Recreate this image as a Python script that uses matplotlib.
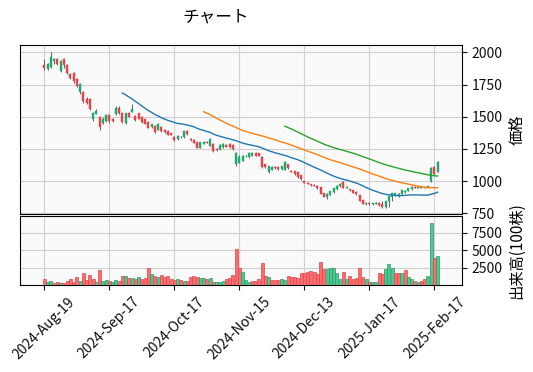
import numpy as np
import pandas as pd
import matplotlib
matplotlib.use('Agg')
import matplotlib.pyplot as plt

plt.rcParams['font.family'] = ['Noto Sans CJK JP', 'DejaVu Sans']

# ------------------------- data -------------------------
opens = [1900, 1870, 1890, 1930, 1950, 1860, 1950, 1900, 1830, 1840,
         1790, 1690, 1690, 1640, 1640, 1480, 1525, 1500, 1450, 1470,
         1515, 1480, 1520, 1570, 1530, 1450, 1530, 1540, 1505, 1525,
         1500, 1480, 1460, 1420, 1430, 1400, 1420, 1400, 1390, 1370,
         1345, 1325, 1345, 1340, 1390, 1330, 1320, 1300, 1260, 1290,
         1305, 1275, 1290, 1250, 1250, 1265, 1280, 1290, 1280, 1135,
         1145, 1160, 1195, 1185, 1200, 1220, 1215, 1190, 1130, 1070,
         1090, 1110, 1110, 1095, 1090, 1130, 1080, 1075, 1070, 1045,
         1000, 985, 975, 970, 965, 950, 905, 875, 895, 915,
         940, 960, 995, 950, 935, 930, 915, 890, 850, 822,
         830, 820, 825, 828, 822, 800, 845, 880, 890, 885,
         905, 915, 925, 940, 955, 950, 955, 950, 955, 1000,
         1110, 1075]
highs = [1950, 1920, 2000, 1960, 1960, 1940, 1955, 1910, 1840, 1845,
         1800, 1760, 1700, 1650, 1645, 1535, 1560, 1505, 1495, 1520,
         1525, 1490, 1580, 1580, 1540, 1530, 1535, 1600, 1510, 1530,
         1505, 1485, 1465, 1445, 1435, 1450, 1425, 1405, 1395, 1375,
         1350, 1355, 1350, 1390, 1395, 1335, 1325, 1305, 1305, 1310,
         1310, 1335, 1295, 1255, 1285, 1295, 1285, 1295, 1285, 1225,
         1200, 1205, 1200, 1225, 1225, 1225, 1220, 1195, 1135, 1120,
         1115, 1115, 1115, 1120, 1160, 1135, 1085, 1080, 1075, 1050,
         1005, 990, 980, 975, 970, 955, 910, 905, 925, 950,
         970, 985, 1000, 960, 940, 935, 920, 895, 855, 835,
         835, 830, 835, 835, 845, 830, 850, 890, 910, 905,
         935, 930, 950, 960, 960, 960, 960, 958, 965, 1110,
         1115, 1160]
lows = [1860, 1860, 1880, 1910, 1900, 1850, 1880, 1830, 1790, 1760,
        1730, 1680, 1610, 1600, 1550, 1470, 1520, 1400, 1440, 1460,
        1455, 1460, 1515, 1525, 1450, 1440, 1495, 1535, 1470, 1480,
        1455, 1440, 1410, 1415, 1375, 1395, 1385, 1375, 1355, 1355,
        1315, 1320, 1335, 1335, 1360, 1315, 1295, 1255, 1255, 1285,
        1295, 1270, 1230, 1235, 1245, 1260, 1265, 1260, 1245, 1115,
        1140, 1155, 1190, 1180, 1195, 1195, 1195, 1105, 1105, 1065,
        1085, 1095, 1090, 1090, 1085, 1095, 1070, 1050, 1025, 1010,
        985, 975, 965, 960, 940, 900, 875, 860, 890, 910,
        935, 955, 945, 945, 925, 905, 895, 845, 820, 818,
        815, 815, 820, 810, 795, 795, 800, 845, 885, 880,
        900, 910, 920, 935, 945, 945, 948, 945, 950, 990,
        1050, 1070]
closes = [1880, 1910, 1960, 1945, 1910, 1930, 1900, 1840, 1800, 1775,
          1740, 1750, 1620, 1610, 1560, 1530, 1545, 1420, 1485, 1510,
          1465, 1470, 1570, 1530, 1460, 1525, 1500, 1560, 1475, 1485,
          1460, 1445, 1415, 1440, 1380, 1445, 1390, 1380, 1360, 1360,
          1320, 1350, 1340, 1385, 1365, 1320, 1300, 1260, 1300, 1305,
          1300, 1330, 1235, 1240, 1280, 1290, 1270, 1265, 1250, 1215,
          1190, 1195, 1198, 1220, 1220, 1200, 1200, 1110, 1110, 1115,
          1110, 1100, 1095, 1115, 1150, 1100, 1075, 1055, 1030, 1015,
          990, 980, 970, 965, 945, 905, 880, 900, 920, 945,
          965, 980, 950, 955, 930, 910, 900, 850, 825, 828,
          822, 826, 830, 815, 800, 845, 885, 910, 905, 900,
          930, 925, 945, 955, 950, 955, 950, 948, 960, 1100,
          1055, 1150]
# 出来高 (100株)
volumes = [850, 380, 610, 240, 380, 240, 240, 610, 800, 470,
           1090, 610, 1800, 700, 1400, 850, 380, 2100, 610, 700,
           610, 380, 700, 610, 1270, 1270, 940, 990, 850, 1090,
           800, 990, 2500, 1560, 1320, 1090, 1400, 1090, 1270, 850,
           700, 850, 750, 520, 610, 1090, 1270, 1180, 990, 940,
           800, 990, 470, 470, 420, 610, 800, 990, 1460, 5240,
           2500, 1930, 700, 500, 610, 610, 800, 3200, 1320, 1180,
           700, 700, 750, 800, 700, 1230, 1090, 1090, 990, 1800,
           1800, 1940, 2030, 1940, 1650, 3350, 2270, 2360, 2400, 2400,
           1800, 850, 1940, 850, 1270, 850, 940, 2500, 1090, 850,
           380, 380, 380, 1800, 1650, 2360, 3070, 2400, 1800, 1750,
           1800, 2100, 1180, 850, 610, 380, 520, 850, 1270, 8920,
           3820, 4250]
tick_pos = [0, 20, 40, 60, 80, 100, 120]
tick_labels = ['2024-Aug-19', '2024-Sep-17', '2024-Oct-17', '2024-Nov-15',
               '2024-Dec-13', '2025-Jan-17', '2025-Feb-17']
mav_windows = [25, 50, 75]

# ------------------------------ plotting ------------------------------
o = np.array(opens, dtype=float)
h = np.array(highs, dtype=float)
l = np.array(lows, dtype=float)
c = np.array(closes, dtype=float)
v = np.array(volumes, dtype=float)
x = np.arange(len(c))

up_c, dn_c = '#22a86a', '#e8414a'
vol_up, vol_dn = '#4dc790', '#fd6b6c'
bg = '#fafafa'
grid_c = '#d0d0d0'

fig = plt.figure(figsize=(5.33, 3.72), dpi=100)
ax = fig.add_axes([0.0375, 0.4247, 0.8293, 0.4543])
axv = fig.add_axes([0.0375, 0.2339, 0.8293, 0.1855], sharex=ax)

for a in (ax, axv):
    a.set_facecolor(bg)
    a.grid(True, color=grid_c, linewidth=0.8)
    a.set_axisbelow(True)
    a.yaxis.tick_right()
    a.yaxis.set_label_position('right')
    a.tick_params(labelsize=10, colors='#101010')

up = c >= o
cols = np.where(up, up_c, dn_c)
ax.vlines(x, l, h, colors='#606060', linewidth=0.7, zorder=2)
ax.bar(x, np.abs(c - o) + 2, bottom=np.minimum(o, c) - 1, width=0.6,
       color=cols, edgecolor=cols, linewidth=0.3, zorder=3)

mav_colors = ['#1f77b4', '#ff7f0e', '#2ca02c']
for w, mc in zip(mav_windows, mav_colors):
    ma = pd.Series(c).rolling(w).mean()
    ax.plot(x, ma, color=mc, linewidth=1.0, zorder=4)

prev = np.r_[np.nan, c[:-1]]
vup = c > prev
vcols = np.where(vup, vol_up, vol_dn)
vedge = np.where(vup, '#2a9a66', '#d84a4c')
axv.bar(x, v, width=0.95, color=vcols, edgecolor=vedge, linewidth=0.5, zorder=3)

ax.set_ylim(745, 2057)
ax.set_yticks([750, 1000, 1250, 1500, 1750, 2000])
ax.set_ylabel('価格', fontsize=11)
axv.set_ylim(0, 9950)
axv.set_yticks([2500, 5000, 7500])
axv.set_ylabel('出来高(100株)', fontsize=11)

ax.set_xlim(-7.5, 128.5)
axv.set_xticks(tick_pos)
axv.set_xticklabels(tick_labels, rotation=45, ha='center')
plt.setp(ax.get_xticklabels(), visible=False)
ax.tick_params(axis='x', length=0)

fig.text(0.405, 0.955, 'チャート', ha='center', va='center', fontsize=12)

fig.savefig('out.png', dpi=100)
